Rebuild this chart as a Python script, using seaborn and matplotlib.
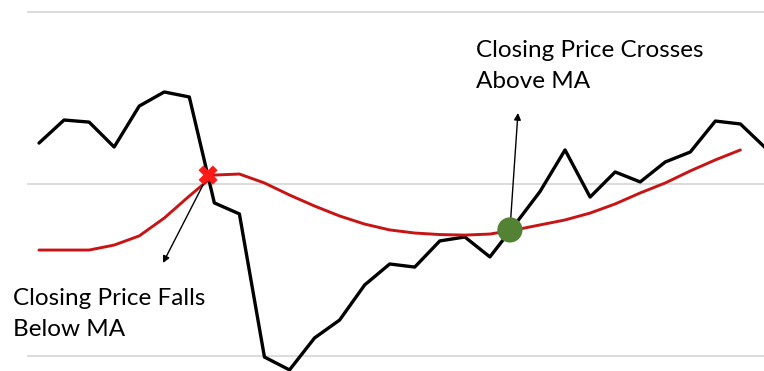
import numpy as np
import pandas as pd
import matplotlib
matplotlib.use("Agg")
import matplotlib.pyplot as plt
import seaborn as sns

# ---- data ----
close = [112.38, 113.72, 113.60, 112.15, 114.53, 115.35, 115.06, 108.90, 108.26, 99.94,
         99.19, 101.05, 102.09, 104.13, 105.35, 105.17, 106.69, 106.92, 105.76, 107.64,
         109.56, 111.98, 109.24, 110.70, 110.12, 111.28, 111.86, 113.66, 113.49, 112.10]
ma = [106.16, 106.16, 106.16, 106.45, 106.98, 108.02, 109.30, 110.52, 110.58, 110.06,
      109.36, 108.72, 108.14, 107.67, 107.33, 107.15, 107.06, 107.03, 107.09, 107.33,
      107.62, 107.91, 108.31, 108.84, 109.48, 110.06, 110.76, 111.40, 111.98, np.nan]
cross_down_x = [6.75]
cross_down_y = [110.52]
cross_up_x = [18.8]
cross_up_y = [107.33]
label_down = "Closing Price Falls\nBelow MA"
label_up = "Closing Price Crosses\nAbove MA"

df = pd.DataFrame({"t": np.arange(len(close)), "close": close, "ma": ma})

sns.set_style("white")
plt.rcParams["font.family"] = ["Lato", "DejaVu Sans"]

fig = plt.figure(figsize=(7.64, 3.71), dpi=100)
ax = fig.add_axes([27 / 764, 0, 1 - 27 / 764, 1])

for gy in [100, 110, 120]:
    ax.axhline(gy, color="#d9d9d9", lw=1.3, zorder=0)

sns.lineplot(data=df, x="t", y="close", ax=ax, color="black", lw=2.4, zorder=2)
sns.lineplot(data=df, x="t", y="ma", ax=ax, color="#c81414", lw=2.1, zorder=3,
             solid_joinstyle="round")

sns.scatterplot(x=cross_down_x, y=cross_down_y, ax=ax, marker="X", s=190,
                color="#ff1a1a", edgecolor="none", zorder=5)
sns.scatterplot(x=cross_up_x, y=cross_up_y, ax=ax, marker="o", s=330,
                color="#548235", edgecolor="none", zorder=5)

ax.annotate("", xy=(4.95, 105.41), xytext=(cross_down_x[0], cross_down_y[0]),
            arrowprops=dict(arrowstyle="-|>", color="black", lw=1.0,
                            mutation_scale=10, shrinkA=0, shrinkB=0), zorder=4)
ax.annotate("", xy=(19.12, 114.13), xytext=(cross_up_x[0], cross_up_y[0]),
            arrowprops=dict(arrowstyle="-|>", color="black", lw=1.0,
                            mutation_scale=10, shrinkA=0, shrinkB=0), zorder=4)

ax.text(13, 371 - 336, label_down, transform=None, fontsize=17.5, color="black",
        va="baseline", ha="left", linespacing=1.58)
ax.text(476, 371 - 88, label_up, transform=None, fontsize=17.5, color="black",
        va="baseline", ha="left", linespacing=1.58)

ax.set_xlim((27 - 39) / 25.05, (764 - 39) / 25.05)
ax.set_ylim(100 - 15 / 17.2, 100 + 356 / 17.2)
ax.set_xlabel("")
ax.set_ylabel("")
ax.set_xticks([])
ax.set_yticks([])
for s in ax.spines.values():
    s.set_visible(False)
ax.patch.set_alpha(0)

fig.savefig("out.png", dpi=100)
